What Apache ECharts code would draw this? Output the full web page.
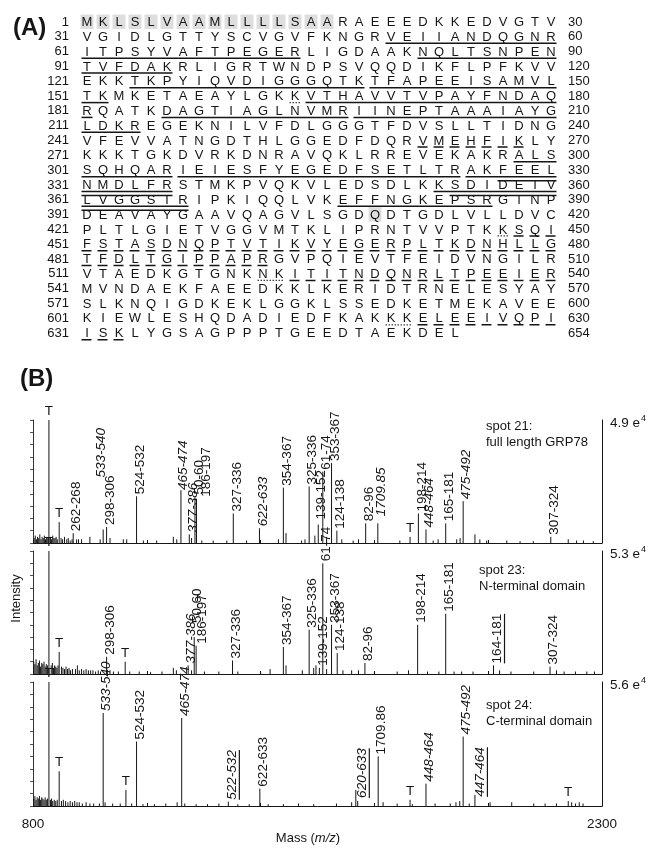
<!DOCTYPE html>
<html><head><meta charset="utf-8">
<script src="https://cdn.jsdelivr.net/npm/echarts@6/dist/echarts.min.js"></script>
<style>html,body{margin:0;padding:0;background:#fff}#c{width:652px;height:852px}</style>
</head><body><div id="c"></div>
<script>
// ---------------- DATA ----------------
const sequenceRows = [
 "MKLSLVAAMLLLLSAARAEEEDKKEDVGTV","VGIDLGTTYSCVGVFKNGRVEIIANDQGNR","ITPSYVAFTPEGERLIGDAAKNQLTSNPEN",
 "TVFDAKRLIGRTWNDPSVQQDIKFLPFKVV","EKKTKPYIQVDIGGGQTKTFAPEEISAMVL","TKMKETAEAYLGKKVTHAVVTVPAYFNDAQ",
 "RQATKDAGTIAGLNVMRIINEPTAAAIAYG","LDKREGEKNILVFDLGGGTFDVSLLTIDNG","VFEVVATNGDTHLGGEDFDQRVMEHFIKLY",
 "KKKTGKDVRKDNRAVQKLRREVEKAKRALS","SQHQARIEIESFYEGEDFSETLTRAKFEEL","NMDLFRSTMKPVQKVLEDSDLKKSDIDEIV",
 "LVGGSTRIPKIQQLVKEFFNGKEPSRGINP","DEAVAYGAAVQAGVLSGDQDTGDLVLLDVC","PLTLGIETVGGVMTKLIPRNTVVPTKKSQI",
 "FSTASDNQPTVTIKVYEGERPLTKDNHLLG","TFDLTGIPPAPRGVPQIEVTFEIDVNGILR","VTAEDKGTGNKNKITITNDQNRLTPEEIER",
 "MVNDAEKFAEEDKKLKERIDTRNELESYAY","SLKNQIGDKEKLGGKLSSEDKETMEKAVEE","KIEWLESHQDADIEDFKAKKKELEEIVQPI",
 "ISKLYGSAGPPPTGEEDTAEKDEL"];
const rowStartLabels = ['1','31','61','91','121','151','181','211','241','271','301','331','361','391','421','451','481','511','541','571','601','631'];
const rowEndLabels = ['30','60','90','120','150','180','210','240','270','300','330','360','390','420','450','480','510','540','570','600','630','654'];
const shadedResidues = [1,2,3,4,5,6,7,8,9,10,11,12,13,14,15,16,409];
const solidPeptides = [[50,60],[61,74],[82,96],[124,138],[139,152],[165,181],[186,197],[198,214],[298,306],[307,324],[325,336],[353,367],[377,386]];
const secondLinePeptides = [[327,336],[354,367]];
const dashedPeptides = [[262,268],[448,464],[465,474],[475,492],[524,532],[533,540],[622,633]];
const dottedPeptides = [[164,164],[447,447],[522,523],[620,621]];

const massTicks = [800, 2300];
// [m/z, relative intensity %, label]
const spot21Peaks = [[842,100,'T'],[869,17,'T'],[906,8,'262-268'],[985,11,'533-540'],[994,13,'298-306'],[1073,38,'524-532'],
 [1190,43,'465-474'],[1212,7,'377-386'],[1227,37,'50-60'],[1231,36,'186-197'],[1328,24,'327-336'],[1397,12,'622-633'],
 [1460,45,'354-367'],[1528,46,'325-336'],[1552,15,'139-152'],[1564,58,'61-74'],[1587,65,'353-367'],[1601,10,'124-138'],
 [1677,16,'82-96'],[1709,16,'1709.85'],[1794,5,'T'],[1816,24,'198-214'],[1836,11,'448-464'],[1888,16,'165-181'],
 [1934,34,'475-492'],[2165,5,'307-324']];
const spot23Peaks = [[842,100,'T'],[869,18,'T'],[994,14,'298-306'],[1043,10,'T'],[1209,7,'377-386'],[1225,30,'50-60'],
 [1230,23,'186-197'],[1326,11,'327-336'],[1460,22,'354-367'],[1528,36,'325-336'],[1555,5,'139-152'],[1564,90,'61-74'],
 [1587,40,'353-367'],[1602,17,'124-138'],[1675,9,'82-96'],[1814,40,'198-214'],[1888,49,'165-181'],[2014,7,'164-181'],
 [2163,6,'307-324']];
const spot24Peaks = [[842,100,'T'],[869,28,'T'],[985,75,'533-540'],[1045,13,'T'],[1073,52,'524-532'],[1192,71,'465-474'],
 [1315,3.5,'522-532'],[1398,14,'622-633'],[1651,13,'620-633'],[1710,40,'1709.86'],[1794,5,'T'],[1836,18,'448-464'],
 [1934,56,'475-492'],[1965,9,'447-464'],[2211,4,'T']];
// minor (unlabelled) peaks [m/z, %]
const spot21Minor = [[803,4],[806,6],[809,3],[812,5],[815,4],[818,7],[821,3],[824,5],[827,4],[830,6],[833,3],[836,5],[839,4],
 [846,5],[849,3],[852,6],[855,4],[858,4],[861,5],[864,3],[874,4],[878,3],[883,5],[889,3],[893,4],[898,2],[903,3],[915,3],
 [920,3],[928,3],[950,5],[977,3],[1003,4],[1038,3],[1047,3],[1091,2],[1126,2],[1170,5],[1179,3],[1218,4],[1245,2],[1275,2],
 [1311,2],[1363,2],[1447,3],[1467,8],[1508,2],[1517,3],[1543,6],[1574,5],[1614,3],[1644,2],[1658,3],[1767,2],[1855,2],
 [1868,3],[1917,3],[1926,4],[1965,7],[1978,3],[1996,2],[2049,2],[2084,1.5],[2119,1.5],[2211,3],[2233,2],[2251,2],[2277,1.5]];
const spot23Minor = [[802,10],[805,8],[808,12],[811,7],[814,9],[817,11],[820,6],[823,9],[826,8],[829,10],[832,6],[835,8],
 [838,7],[848,7],[851,9],[854,5],[857,7],[860,6],[863,5],[866,7],[875,6],[879,5],[883,4],[887,6],[891,4],[895,5],[899,3],
 [904,4],[912,4],[917,7],[922,3],[928,4],[934,3],[940,4],[946,3],[952,3],[958,3],[965,2],[972,3],[978,2],[1003,3],[1012,2],
 [1025,2],[1055,2],[1080,2],[1110,1.5],[1140,2],[1170,5],[1178,3],[1218,3],[1252,2],[1290,2],[1340,2],[1400,2],[1425,4],
 [1467,7],[1510,3],[1540,5],[1546,7],[1574,4],[1617,3],[1640,3],[1658,3],[1700,2],[1760,2],[1790,3],[1840,2],[1870,2],
 [1910,2],[1930,2],[1960,2],[2030,3],[2060,2],[2120,2],[2180,3],[2200,2],[2230,2],[2260,2],[2280,2]];
const spot24Minor = [[802,6],[805,8],[808,5],[811,7],[814,6],[817,8],[820,5],[823,7],[826,6],[829,5],[832,7],[835,5],[838,6],
 [846,5],[849,6],[852,4],[856,5],[860,4],[864,5],[875,4],[880,5],[886,4],[892,3],[898,4],[904,3],[910,4],[916,3],[922,3],
 [930,2],[940,3],[950,2],[960,2],[975,2],[990,3],[1010,2],[1030,2],[1060,2],[1090,1.5],[1120,1.5],[1150,2],[1180,3],
 [1200,2],[1230,1.5],[1260,1.5],[1290,2],[1340,1.5],[1370,1.5],[1420,1.5],[1460,1.5],[1500,2],[1540,1.5],[1600,2],
 [1640,3],[1656,4],[1723,3],[1760,2],[1800,1.5],[1860,2],[1900,2],[1915,3],[1925,4],[1950,2],[2005,3],[2062,3],[2120,2],
 [2150,2],[2180,2],[2220,3],[2230,2],[2240,3],[2250,2]];

// ---------------- STYLE / LAYOUT ----------------
const FONT = '"Liberation Sans", Arial, Helvetica, sans-serif';
const INK = '#151515';
const italicLabels = {
  spot21: ['533-540','465-474','377-386','622-633','1709.85','448-464','475-492'],
  spot23: ['377-386'],
  spot24: ['533-540','465-474','522-532','620-633','448-464','475-492','447-464']
};
const underlinedLabels = ['164-181','522-532','620-633','447-464'];
const labelAdjust = {
  spot21: {'533-540':{dx:-2,gap:52},'465-474':{dx:2,gap:0},'50-60':{dx:4,gap:3},'186-197':{dx:10,gap:2},'1709.85':{gap:7},'139-152':{gap:5}},
  spot23: {'50-60':{gap:14},'186-197':{dx:6}},
  spot24: {'620-633':{dx:6,gap:-8},'447-464':{dx:5,gap:-2}}
};

const mctx = document.createElement('canvas').getContext('2d');
function textWidth(t, font){ mctx.font = font; return mctx.measureText(t).width; }

// build sequence items
const residueItems = [];
sequenceRows.forEach((row, r) => { for (let c = 0; c < row.length; c++) residueItems.push([c, r, row[c]]); });
const posToCell = p => [(p - 1) % 30, Math.floor((p - 1) / 30)];
const shadeItems = shadedResidues.map(posToCell);
function segs(list, kind){
  const out = [];
  list.forEach(([s, e]) => {
    let p = s;
    while (p <= e) {
      const [c0, r] = posToCell(p);
      const rowEnd = (r + 1) * 30;
      const q = Math.min(e, rowEnd);
      out.push([c0, posToCell(q)[0], r, kind]);
      p = q + 1;
    }
  });
  return out;
}
const underlineItems = [].concat(segs(solidPeptides,0), segs(secondLinePeptides,1), segs(dashedPeptides,2), segs(dottedPeptides,3));

const chart = echarts.init(document.getElementById('c'), null, {renderer:'canvas'});

const specGrids = [{top:420,height:123},{top:551,height:123},{top:682,height:124}];
const spots = [
  {key:'spot21', peaks:spot21Peaks, minor:spot21Minor, scale:'4.9'},
  {key:'spot23', peaks:spot23Peaks, minor:spot23Minor, scale:'5.3'},
  {key:'spot24', peaks:spot24Peaks, minor:spot24Minor, scale:'5.6'}
];

const grid = [{left:79, top:14.6, width:480, height:326}].concat(specGrids.map(g => ({left:33, width:569, top:g.top, height:g.height})));

const xAxis = [{type:'value', gridIndex:0, min:-0.5, max:29.5, show:false}];
const yAxis = [
  {type:'category', gridIndex:0, data:rowStartLabels, inverse:true, axisLine:{show:false}, axisTick:{show:false},
   axisLabel:{interval:0, fontSize:13, fontFamily:FONT, color:INK, margin:10}},
  {type:'category', gridIndex:0, position:'right', data:rowEndLabels, inverse:true, axisLine:{show:false}, axisTick:{show:false},
   axisLabel:{interval:0, fontSize:13, fontFamily:FONT, color:INK, margin:9, align:'left'}}
];
spots.forEach((s, i) => {
  const last = i === 2;
  xAxis.push({type:'value', gridIndex:i+1, min:800, max:2300, interval:300,
    axisLine:{show:true, onZero:false, lineStyle:{color:INK, width:1}},
    axisTick:{show:true, inside:true, length:3, lineStyle:{color:INK}},
    splitLine:{show:false},
    axisLabel:{show:last, fontSize:13.5, fontFamily:FONT, color:INK, margin:11,
      formatter: v => massTicks.includes(v) ? String(v) : ''},
    name: last ? '{n|Mass (}{i|m/z}{n|)}' : '', nameLocation:'middle', nameGap:20,
    nameTextStyle:{padding:[0,19,0,0], rich:{n:{fontSize:13, fontFamily:FONT, color:INK}, i:{fontSize:13, fontFamily:FONT, color:INK, fontStyle:'italic'}}}
  });
});
spots.forEach((s, i) => {
  yAxis.push({type:'value', gridIndex:i+1, min:0, max:100, interval:10,
    axisLine:{show:true, lineStyle:{color:'#333', width:1}},
    axisTick:{show:true, length:3, lineStyle:{color:'#555'}},
    axisLabel:{show:false}, splitLine:{show:false},
    name: i === 1 ? 'Intensity' : '', nameLocation:'middle', nameGap:10,
    nameTextStyle:{fontSize:13, fontFamily:FONT, color:INK, padding:[0,0,0,28]}
  });
});
spots.forEach((s, i) => {
  yAxis.push({type:'value', gridIndex:i+1, position:'right', min:0, max:100,
    axisLine:{show:true, lineStyle:{color:INK, width:1}}, axisTick:{show:false}, axisLabel:{show:false}, splitLine:{show:false},
    name: s.scale + ' e{s|4}', nameLocation:'end', nameGap:-3,
    nameTextStyle:{align:'left', verticalAlign:'middle', padding:[0,0,0,8], fontSize:13.5, fontFamily:FONT, color:INK,
      rich:{s:{fontSize:9, fontFamily:FONT, color:INK, verticalAlign:'top', padding:[0,0,8,1]}}}
  });
});

const series = [
  {type:'custom', xAxisIndex:0, yAxisIndex:0, data:shadeItems, z:1, silent:true,
   renderItem(params, api){
     const p = api.coord([api.value(0), api.value(1)]);
     return {type:'rect', shape:{x:p[0]-6.5, y:p[1]-7.5, width:13, height:14.5}, style:{fill:'#dedede'}};
   }},
  {type:'custom', xAxisIndex:0, yAxisIndex:0, data:residueItems.map(d => [d[0], d[1]]), z:3, silent:true,
   renderItem(params, api){
     const p = api.coord([api.value(0), api.value(1)]);
     return {type:'text', x:p[0], y:p[1]+0.5, style:{text:residueItems[params.dataIndex][2], fontSize:13, fontFamily:FONT, fill:INK, align:'center', verticalAlign:'middle'}};
   }},
  {type:'custom', xAxisIndex:0, yAxisIndex:0, data:underlineItems, z:4, silent:true,
   encode:{x:[0,1], y:2},
   renderItem(params, api){
     const c0 = api.value(0), c1 = api.value(1), r = api.value(2), kind = api.value(3);
     const a = api.coord([c0, r]), b = api.coord([c1, r]);
     const y = a[1] + (kind === 1 ? 10.5 : 6.5);
     const style = {stroke: kind === 3 ? '#444' : INK, lineWidth: kind === 3 ? 1.2 : 1.5};
     if (kind === 2) style.lineDash = [10, 6];
     if (kind === 3) style.lineDash = [1.5, 1.5];
     return {type:'line', shape:{x1:a[0]-5.5, y1:y, x2:b[0]+5.5, y2:y}, style};
   }}
];

spots.forEach((s, i) => {
  const sticks = s.peaks.map(p => [p[0], p[1]]).concat(s.minor);
  series.push({type:'custom', xAxisIndex:i+1, yAxisIndex:i+2, data:sticks, z:2, silent:true,
    renderItem(params, api){
      const m = api.value(0), h = api.value(1);
      const a = api.coord([m, 0]), b = api.coord([m, h]);
      return {type:'line', shape:{x1:a[0], y1:a[1], x2:b[0], y2:b[1]}, style:{stroke:INK, lineWidth:1}};
    }});
  series.push({type:'custom', xAxisIndex:i+1, yAxisIndex:i+2, data:s.peaks.map(p => [p[0], p[1]]), z:5, silent:true, clip:false,
    renderItem(params, api){
      const p = s.peaks[params.dataIndex];
      const text = p[2];
      const top = api.coord([api.value(0), api.value(1)]);
      const adj = (labelAdjust[s.key] || {})[text] || {};
      if (text === 'T') {
        return {type:'text', x:top[0]+(adj.dx||0), y:top[1]-(adj.gap!=null?adj.gap:1.5),
          style:{text:'T', fontSize:13.5, fontFamily:FONT, fill:INK, align:'center', verticalAlign:'bottom'}};
      }
      const dx = adj.dx != null ? adj.dx : 3.5, gap = adj.gap != null ? adj.gap : 2;
      const ax = top[0] + dx, ay = top[1] - gap;
      const italic = italicLabels[s.key].includes(text);
      const children = [{type:'text', x:ax, y:ay, rotation:Math.PI/2,
        style:{text, fontSize:13.5, fontFamily:FONT, fontStyle: italic ? 'italic' : 'normal', fill:INK, align:'left', verticalAlign:'middle'}}];
      if (underlinedLabels.includes(text)) {
        const w = textWidth(text, (italic ? 'italic ' : '') + '13.5px ' + FONT);
        children.push({type:'line', shape:{x1:ax+7.5, y1:ay, x2:ax+7.5, y2:ay-w}, style:{stroke:INK, lineWidth:1.2}});
      }
      return {type:'group', children};
    }});
});

const titleStyle = {fontSize:13, fontFamily:FONT, color:INK, fontWeight:'normal', lineHeight:15.5};
chart.setOption({
  animation:false,
  backgroundColor:'#fff',
  title:[
    {text:'(A)', left:8, top:11, textStyle:{fontSize:24, fontWeight:'bold', fontFamily:FONT, color:INK}},
    {text:'(B)', left:15, top:362, textStyle:{fontSize:24, fontWeight:'bold', fontFamily:FONT, color:INK}},
    {text:'spot 21:\nfull length GRP78', left:481, top:414, textStyle:titleStyle},
    {text:'spot 23:\nN-terminal domain', left:474, top:558, textStyle:titleStyle},
    {text:'spot 24:\nC-terminal domain', left:481, top:693, textStyle:titleStyle}
  ],
  grid, xAxis, yAxis, series
});
</script></body></html>
